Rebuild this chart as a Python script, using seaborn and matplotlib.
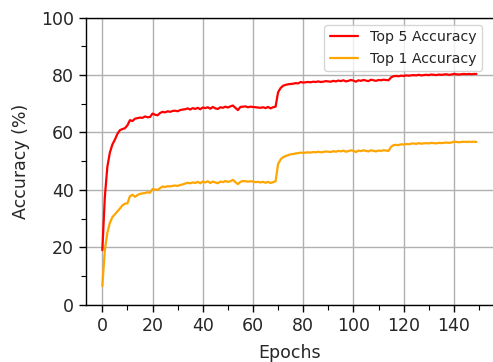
import matplotlib
matplotlib.use("Agg")
import matplotlib.pyplot as plt
from matplotlib.ticker import MultipleLocator
import seaborn as sns
import pandas as pd
import numpy as np

epochs = list(range(150))

top5 = [19.0, 37.5, 48.0, 53.0, 55.8, 57.5, 59.5, 60.8, 61.2, 61.5,
        62.5, 64.3, 64.0, 64.8, 65.0, 65.2, 65.1, 65.6, 65.3, 65.4,
        66.6, 66.2, 66.0, 66.8, 67.2, 67.0, 67.4, 67.2, 67.5, 67.6,
        67.4, 67.8, 68.0, 68.1, 68.4, 68.0, 68.5, 68.2, 68.6, 68.1,
        68.7, 68.5, 68.8, 68.3, 68.9, 68.4, 68.2, 68.8, 68.6, 69.0,
        68.7, 69.1, 69.4, 68.6, 67.8, 68.9, 69.0, 69.1, 68.8, 69.0,
        68.9, 68.8, 68.7, 68.6, 68.8, 68.5, 68.9, 68.4, 68.8, 69.0,
        74.0, 75.5, 76.3, 76.6, 76.8, 76.9, 77.0, 77.2, 77.1, 77.6,
        77.4, 77.5, 77.6, 77.5, 77.7, 77.6, 77.8, 77.6, 77.7, 77.9,
        77.8, 77.7, 78.0, 77.8, 78.1, 77.9, 78.2, 77.8, 78.0, 78.3,
        78.1, 77.7, 78.2, 78.0, 78.3, 78.1, 77.9, 78.4, 78.2, 78.0,
        78.3, 78.2, 78.4, 78.3, 78.2, 79.2, 79.6, 79.7, 79.6, 79.8,
        79.7, 79.9, 79.8, 79.9, 80.0, 79.9, 80.1, 79.9, 80.0, 80.1,
        80.0, 80.2, 80.1, 80.0, 80.2, 80.1, 80.2, 80.3, 80.1, 80.2,
        80.4, 80.3, 80.2, 80.3, 80.4, 80.3, 80.4, 80.3, 80.4, 80.4]

top1 = [6.5, 19.0, 25.0, 28.5, 30.5, 31.5, 32.5, 33.5, 34.6, 35.2,
        35.3, 37.8, 38.3, 37.6, 38.2, 38.6, 38.8, 38.9, 39.2, 39.0,
        40.3, 40.1, 40.0, 40.6, 41.2, 41.0, 41.3, 41.2, 41.4, 41.5,
        41.4, 41.7, 41.9, 42.2, 42.5, 42.3, 42.6, 42.4, 42.8, 42.3,
        42.9, 42.6, 43.0, 42.4, 42.9, 42.6, 42.3, 42.9, 42.7, 43.1,
        42.8, 43.0, 43.5, 42.7, 42.0, 42.8, 43.1, 43.0, 42.9, 43.0,
        42.9, 42.7, 42.8, 42.6, 42.8, 42.5, 42.8, 42.4, 42.7, 43.0,
        49.0, 50.6, 51.4, 51.8, 52.1, 52.4, 52.5, 52.7, 52.8, 53.0,
        52.9, 53.0, 53.1, 53.0, 53.2, 53.1, 53.3, 53.1, 53.2, 53.4,
        53.3, 53.2, 53.5, 53.3, 53.6, 53.4, 53.7, 53.3, 53.5, 53.8,
        53.6, 53.2, 53.7, 53.5, 53.8, 53.6, 53.4, 53.8, 53.6, 53.4,
        53.7, 53.6, 53.8, 53.7, 53.6, 55.0, 55.6, 55.7, 55.6, 55.9,
        55.8, 56.0, 55.9, 56.1, 56.2, 56.0, 56.3, 56.1, 56.2, 56.3,
        56.2, 56.4, 56.3, 56.2, 56.4, 56.3, 56.4, 56.5, 56.4, 56.5,
        56.8, 56.7, 56.6, 56.7, 56.8, 56.7, 56.8, 56.7, 56.8, 56.7]

labels = ["Top 5 Accuracy", "Top 1 Accuracy"]
colors = ["red", "orange"]

df = pd.DataFrame({
    "Epochs": epochs * 2,
    "Accuracy": top5 + top1,
    "Series": [labels[0]] * len(epochs) + [labels[1]] * len(epochs),
})

sns.set_style("ticks")
plt.rcParams["font.family"] = ["DejaVu Sans"]

fig = plt.figure(figsize=(4.93, 3.62), dpi=100)
ax = fig.add_axes([86 / 493, (362 - 304.7) / 362, (494 - 86) / 493, (304.7 - 17.7) / 362])

sns.lineplot(data=df, x="Epochs", y="Accuracy", hue="Series",
             palette=dict(zip(labels, colors)), linewidth=1.6, ax=ax)

ax.set_xlim(-6.5, 156.0)
ax.set_ylim(0, 100)
ax.xaxis.set_major_locator(MultipleLocator(20))
ax.xaxis.set_minor_locator(MultipleLocator(10))
ax.yaxis.set_major_locator(MultipleLocator(20))
ax.yaxis.set_minor_locator(MultipleLocator(10))
ax.grid(True, which="major", color="#b0b0b0", linewidth=1.0)
ax.set_axisbelow(True)
ax.tick_params(axis="both", which="major", labelsize=12.5, length=5, width=1, color="black")
ax.tick_params(axis="both", which="minor", length=3.5, width=0.8, color="black")
for s in ax.spines.values():
    s.set_color("black")
    s.set_linewidth(1.0)
ax.set_xlabel("Epochs", fontsize=12.5, labelpad=6.5)
ax.set_ylabel("Accuracy (%)", fontsize=12.5, labelpad=8)

leg = ax.legend(loc="upper right", fontsize=10.2, frameon=True, bbox_to_anchor=(0.988, 1.0))
leg.get_frame().set_edgecolor("#cccccc")

fig.savefig("out.png", dpi=100)
